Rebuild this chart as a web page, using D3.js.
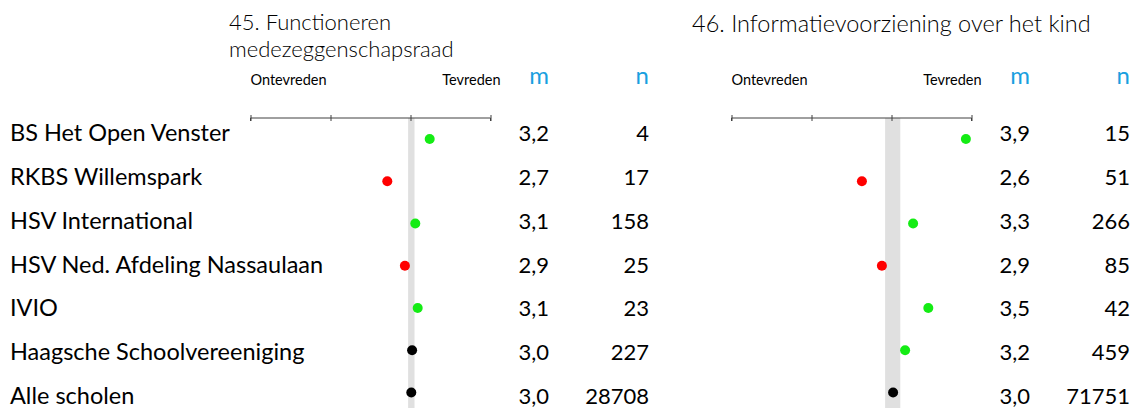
<!DOCTYPE html>
<html>
<head>
<meta charset="utf-8">
<script src="https://cdn.jsdelivr.net/npm/d3@7"></script>
<style>
  body { margin: 0; background: #fff; }
  svg { display: block; }
  .lbl { font-family: "Lato", "Liberation Sans", sans-serif; fill: #000; }
  .ttl { font-family: "Lato", "Liberation Sans", sans-serif; font-weight: 300; fill: #000; }
</style>
</head>
<body>
<div id="chart"></div>
<script>
// rows of the table
let schools = ["BS Het Open Venster", "RKBS Willemspark", "HSV International",
               "HSV Ned. Afdeling Nassaulaan", "IVIO", "Haagsche Schoolvereeniging", "Alle scholen"];

// 45. Functioneren medezeggenschapsraad
let mean45 = [3.24, 2.71, 3.06, 2.93, 3.09, 3.02, 3.01];
let n45    = [4, 17, 158, 25, 23, 227, 28708];
let band45 = [2.97, 3.05];

// 46. Informatievoorziening over het kind
let mean46 = [3.93, 2.63, 3.27, 2.88, 3.46, 3.17, 3.02];
let n46    = [15, 51, 266, 85, 42, 459, 71751];
let band46 = [2.92, 3.11];

let scaleTicks = [1, 2, 3, 4];
let leftLabel = "Ontevreden", rightLabel = "Tevreden";

let width = 1134, height = 408;

let svg = d3.select("#chart").append("svg")
    .attr("width", width)
    .attr("height", height);

let nl = d3.formatLocale({decimal: ",", thousands: "", grouping: [3], currency: ["", ""]});
let fmtMean = nl.format(".1f");

// text rows and dot rows don't line up exactly in the original
let textY = d3.scalePoint().domain(schools).range([141, 404]);
let dotY = d3.scalePoint().domain(schools).range([139, 392.5]);

svg.selectAll("text.school")
    .data(schools)
    .join("text")
    .attr("class", "lbl school")
    .attr("x", 10)
    .attr("y", (d) => textY(d))
    .style("font-size", "23.5px")
    .text((d) => d);

let axisY = 118;

let drawPanel = (dx, titleX, titleLines, means, ns, band) => {
    let g = svg.append("g").attr("transform", `translate(${dx}, 0)`);
    let x = d3.scaleLinear().domain([1, 4]).range([250.5, 490.5]);

    // two-line titles get a bit smaller so the lines don't collide
    let fs = titleLines.length > 1 ? 22 : 23.5;
    g.selectAll("text.title")
        .data(titleLines)
        .join("text")
        .attr("class", "ttl title")
        .attr("x", titleX - dx)
        .attr("y", (d, i) => (titleLines.length > 1 ? 30 : 32) + i * 26.5)
        .style("font-size", fs + "px")
        .text((d) => d);

    // grey reference band
    g.append("rect")
        .attr("x", x(band[0]))
        .attr("y", axisY)
        .attr("width", x(band[1]) - x(band[0]))
        .attr("height", height - axisY)
        .attr("fill", "#e0e0e0");

    let axis = d3.axisTop(x).tickValues(scaleTicks).tickSize(3).tickFormat("");
    let ag = g.append("g")
        .attr("transform", `translate(0, ${axisY})`)
        .call(axis);
    ag.select(".domain").attr("stroke", "#404040").attr("d", `M${x(1)},3V0H${x(4)}V3`);
    ag.selectAll(".tick line").attr("stroke", "#404040").attr("y1", 3).attr("y2", -3);

    g.append("text").attr("class", "lbl")
        .attr("x", x(1)).attr("y", 85)
        .style("font-size", "14.5px")
        .text(leftLabel);
    g.append("text").attr("class", "lbl")
        .attr("x", x(4) + 10).attr("y", 85)
        .attr("text-anchor", "end")
        .style("font-size", "14.5px")
        .text(rightLabel);

    g.append("text").attr("class", "lbl")
        .attr("x", 549).attr("y", 84)
        .attr("text-anchor", "end")
        .style("fill", "#1a9fe0")
        .style("font-size", "24px")
        .text("m");
    g.append("text").attr("class", "lbl")
        .attr("x", 649).attr("y", 84)
        .attr("text-anchor", "end")
        .style("fill", "#1a9fe0")
        .style("font-size", "24px")
        .text("n");

    let rows = schools.map((s, i) => ({school: s, m: means[i], n: ns[i]}));

    g.selectAll("circle.dot")
        .data(rows)
        .join("circle")
        .attr("class", "dot")
        .attr("cx", (d) => x(d.m))
        .attr("cy", (d) => dotY(d.school))
        .attr("r", 5)
        .attr("fill", (d) => d.m > band[1] ? "#14ec14" : d.m < band[0] ? "#ff0000" : "#000000");

    g.selectAll("text.mval")
        .data(rows)
        .join("text")
        .attr("class", "lbl mval")
        .attr("x", 549)
        .attr("y", (d) => textY(d.school))
        .attr("text-anchor", "end")
        .style("font-size", "22px")
        .text((d) => fmtMean(d.m));

    g.selectAll("text.nval")
        .data(rows)
        .join("text")
        .attr("class", "lbl nval")
        .attr("x", 649)
        .attr("y", (d) => textY(d.school))
        .attr("text-anchor", "end")
        .style("font-size", "22px")
        .text((d) => d.n);
};

drawPanel(0, 229, ["45. Functioneren", "medezeggenschapsraad"], mean45, n45, band45);
drawPanel(481, 692, ["46. Informatievoorziening over het kind"], mean46, n46, band46);
</script>
</body>
</html>
